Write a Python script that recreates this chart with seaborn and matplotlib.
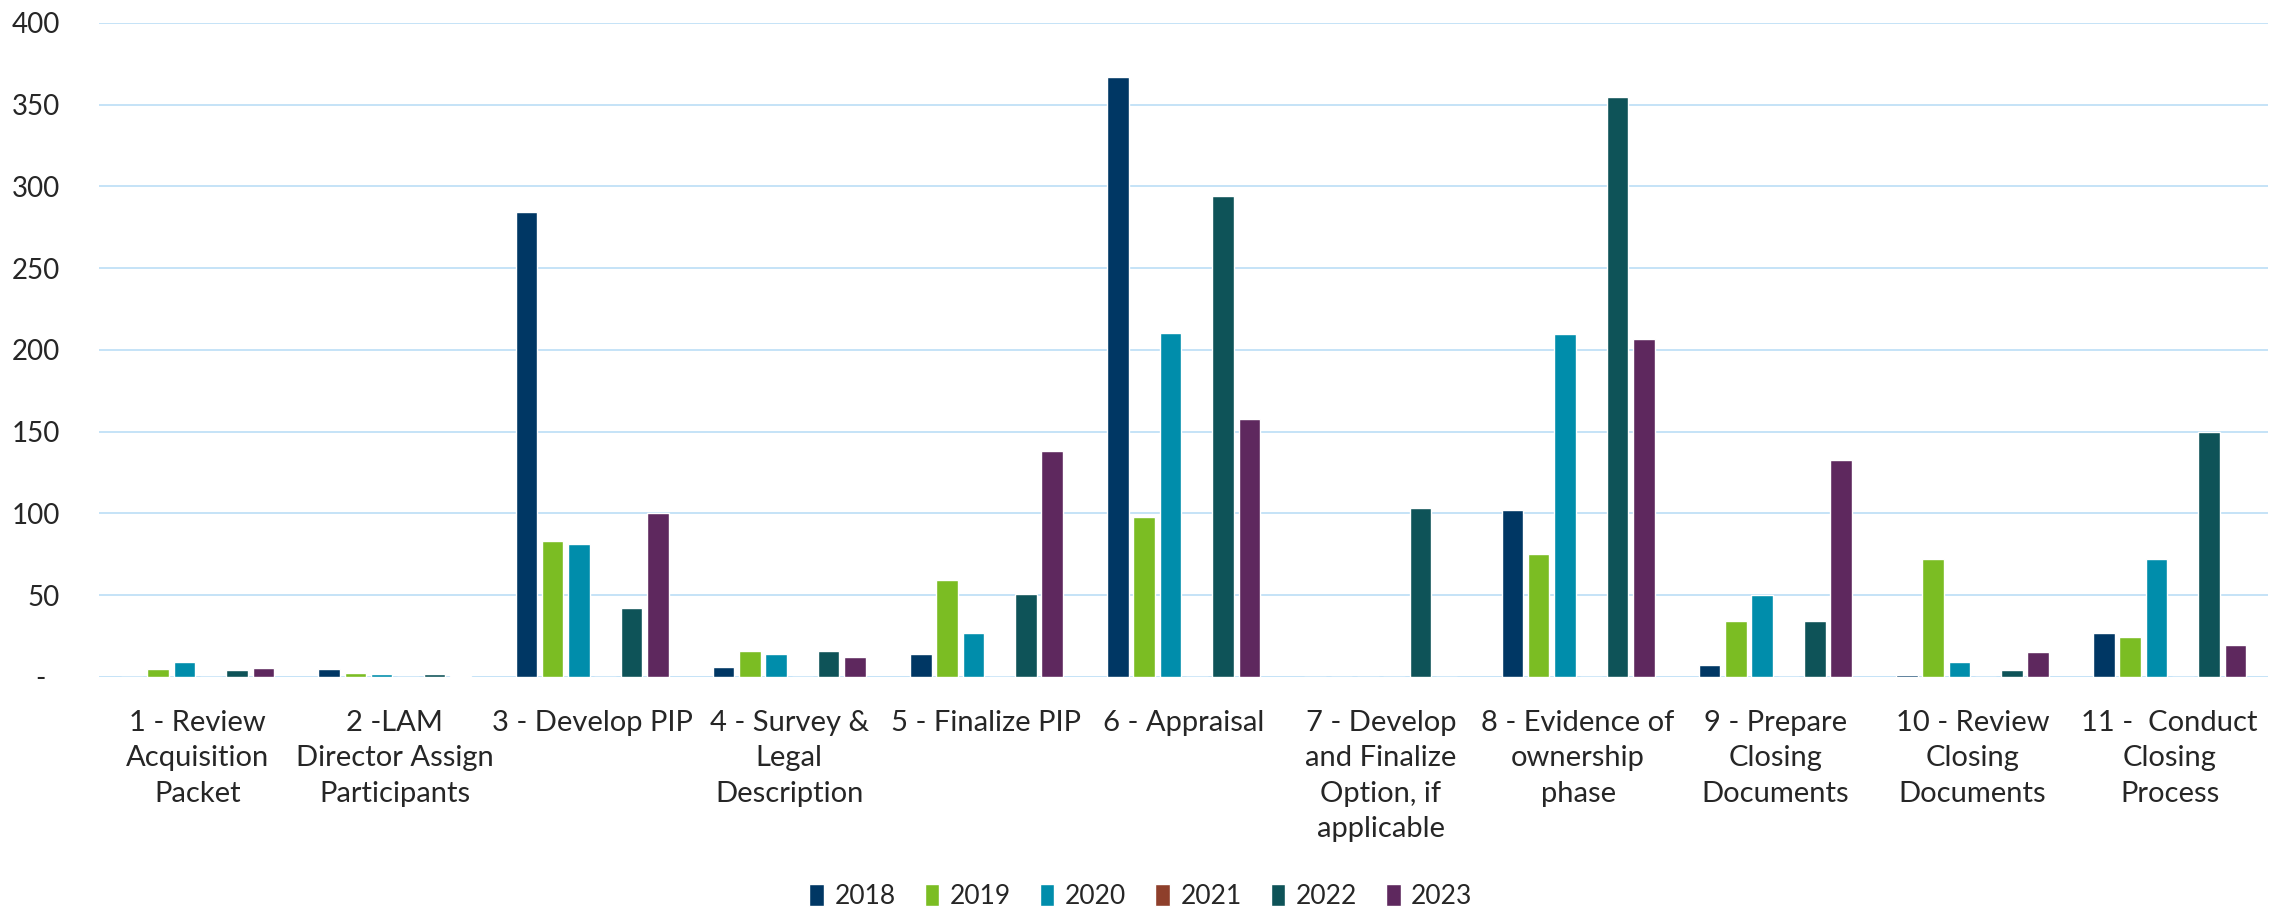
import matplotlib
matplotlib.use("Agg")
import matplotlib.pyplot as plt
import seaborn as sns
import pandas as pd

# phases (tick labels wrapped as in the chart)
categories = [
    "1 - Review\nAcquisition\nPacket",
    "2 -LAM\nDirector Assign\nParticipants",
    "3 - Develop PIP",
    "4 - Survey &\nLegal\nDescription",
    "5 - Finalize PIP",
    "6 - Appraisal",
    "7 - Develop\nand Finalize\nOption, if\napplicable",
    "8 - Evidence of\nownership\nphase",
    "9 - Prepare\nClosing\nDocuments",
    "10 - Review\nClosing\nDocuments",
    "11 -  Conduct\nClosing\nProcess",
]
years = ["2018", "2019", "2020", "2021", "2022", "2023"]

v2018 = [0, 5, 284, 6, 14, 367, 0, 102, 7, 1.4, 27]
v2019 = [5, 2.5, 83, 16, 59, 97.5, 0, 75, 34, 72, 24.5]
v2020 = [9, 2, 81, 14, 27, 210, 0, 209.5, 50, 9, 72]
v2021 = [0, 0, 0, 0, 0, 0, 0, 0, 0, 0, 0]
v2022 = [4, 2, 42, 16, 50.5, 294, 103.5, 354.5, 34, 4, 150]
v2023 = [5.5, 0.7, 100.5, 12, 138, 158, 0, 206.5, 132.5, 15.5, 19.5]

colors = ["#003764", "#7BBD23", "#008DAB", "#8E3F2B", "#0E5358", "#5E285E"]

series = [v2018, v2019, v2020, v2021, v2022, v2023]
rows = []
for y, vals in zip(years, series):
    for c, v in zip(categories, vals):
        rows.append({"phase": c, "year": y, "value": v})
df = pd.DataFrame(rows)

sns.set_style("white")
plt.rcParams['font.family'] = ['Lato', 'DejaVu Sans']

fig = plt.figure(figsize=(22.82, 9.11), dpi=100)
ax = fig.add_axes([0.0434, 0.257, 0.9506, 0.718])

sns.barplot(data=df, x="phase", y="value", hue="year", order=categories,
            hue_order=years, palette=colors, width=0.8, gap=0.18,
            saturation=1, ax=ax, legend=True)

ax.set_ylim(0, 400)
ax.set_yticks(range(0, 401, 50))
ax.set_yticklabels(["-  "] + [str(t) for t in range(50, 401, 50)], fontsize=20)
ax.yaxis.grid(True, color="#C5E3F7", linewidth=1.4)
ax.set_axisbelow(True)
for s in ax.spines.values():
    s.set_visible(False)
ax.set_xticks(range(len(categories)), categories, fontsize=21, linespacing=1.44)
ax.tick_params(axis="y", length=0, pad=28)
ax.tick_params(axis="x", length=0, pad=24)
ax.set_xlabel("")
ax.set_ylabel("")
ax.set_xlim(-0.5, len(categories) - 0.5)

handles, labels = ax.get_legend_handles_labels()
ax.legend_.remove()
fig.legend(handles, labels, loc="center", bbox_to_anchor=(0.5, 0.016), ncol=6,
           frameon=False, fontsize=19, handlelength=0.55, handleheight=0.9,
           handletextpad=0.4, columnspacing=1.1)

fig.savefig("out.png", dpi=100)
